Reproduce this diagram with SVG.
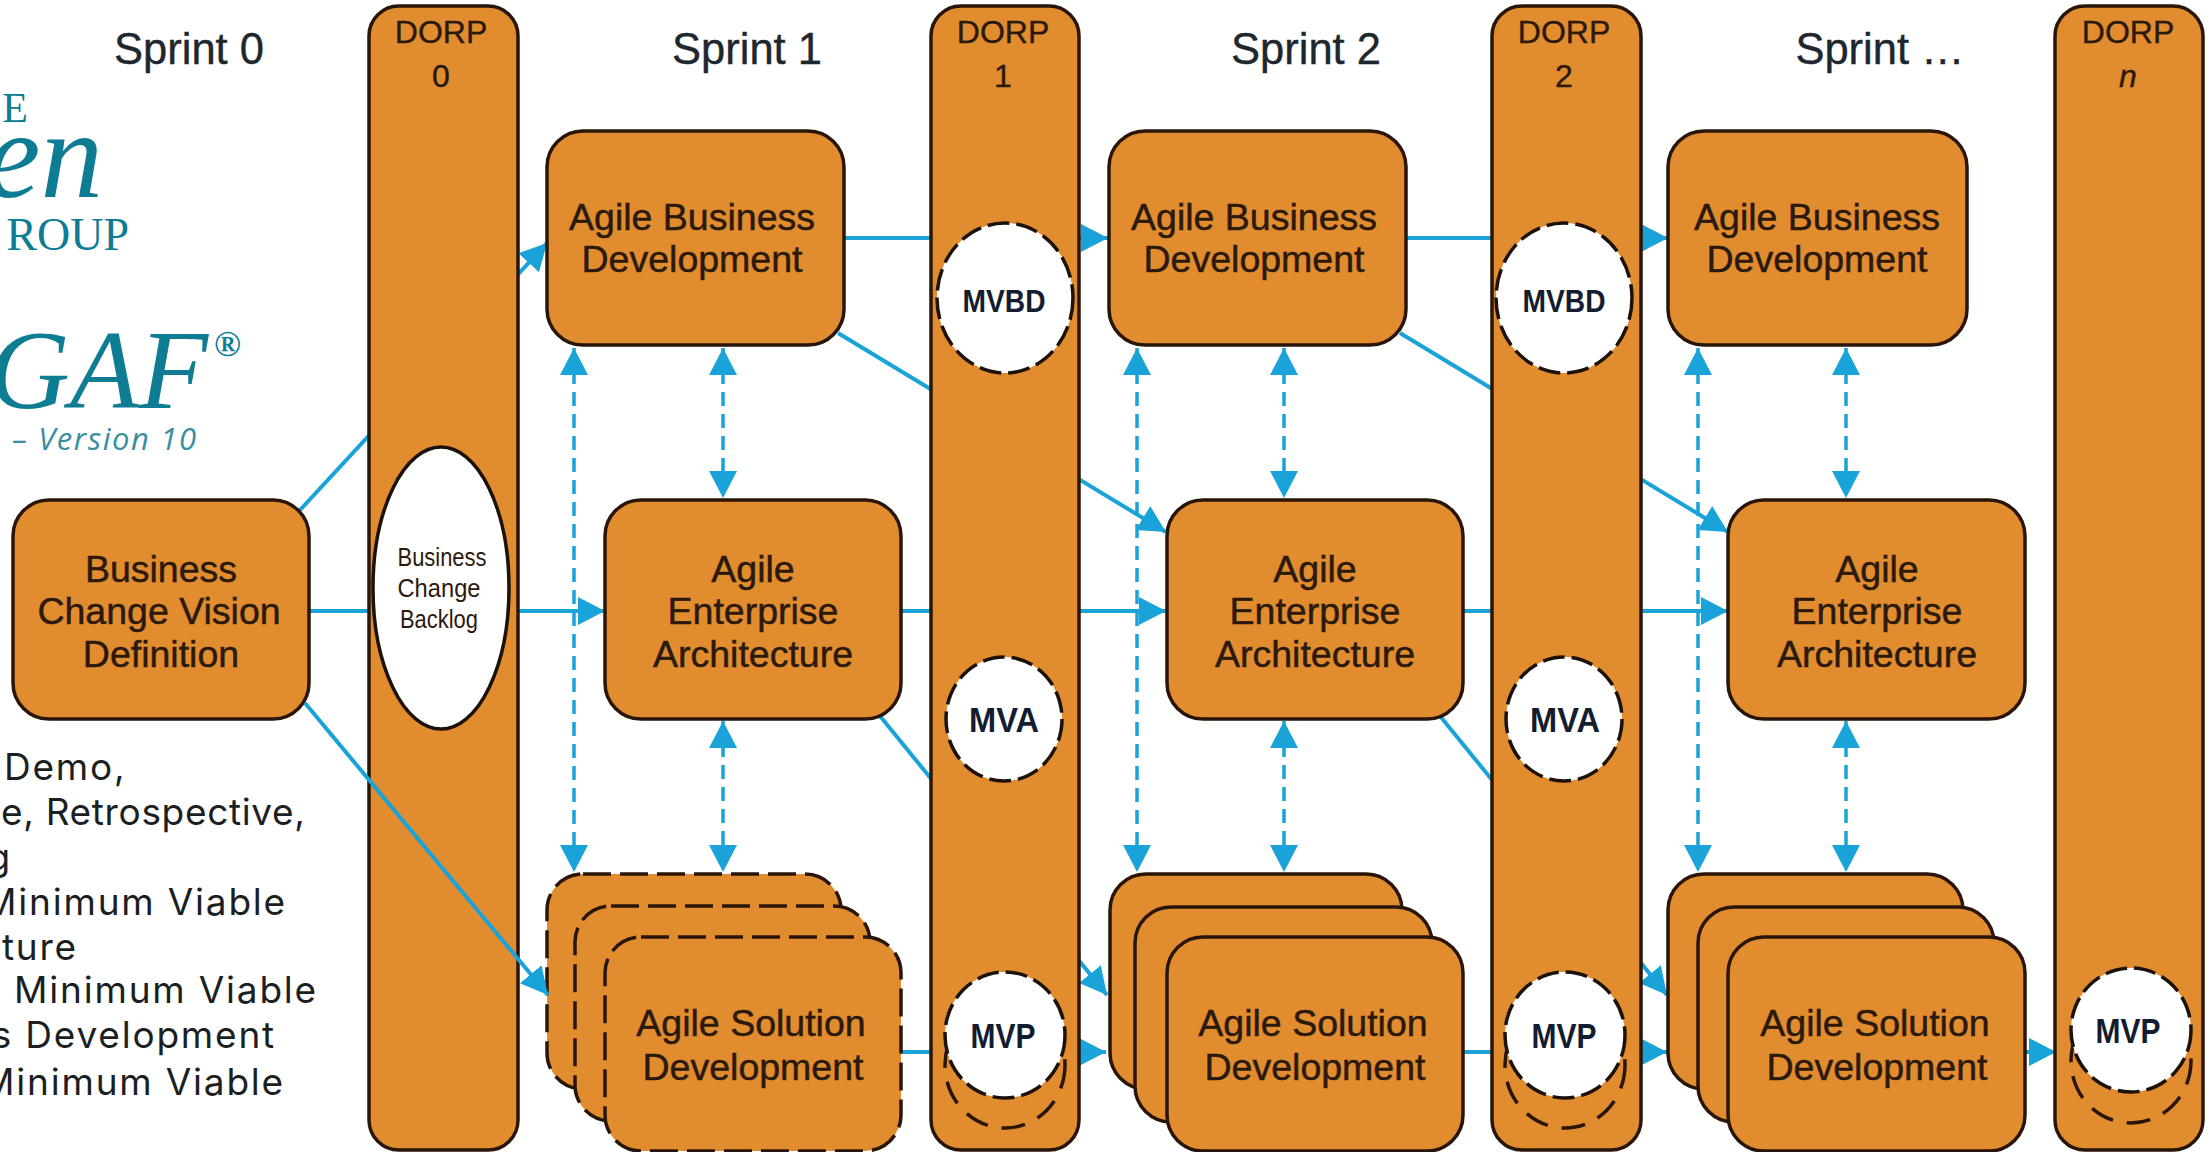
<svg xmlns="http://www.w3.org/2000/svg" width="2210" height="1152" viewBox="0 0 2210 1152">
<style>
.box{fill:#e28c30;stroke:#2a1608;stroke-width:3.5}
.dash{stroke-dasharray:28 9}
.el{fill:#fff;stroke:#1c120a;stroke-width:3.5;stroke-dasharray:22 7}
.under{fill:none;stroke:#2a1608;stroke-width:3.5;stroke-dasharray:24 14}
.t{font-family:"Liberation Sans",Arial,sans-serif;text-anchor:middle;fill:#2b1a0c}
.b{font-size:37.5px;stroke:#2b1a0c;stroke-width:.5}
.d{font-size:32px;stroke:#2b1a0c;stroke-width:.4}
.h{font-size:43.5px;fill:#1e262e;stroke:#1e262e;stroke-width:.4}
.m{font-weight:bold;fill:#141c30}
.c{stroke:#1aa3d9;stroke-width:4;fill:none}
.o{stroke-dasharray:14 8;stroke-width:3.5}
.lg{font-family:"Liberation Serif",serif;fill:#0e7c93}
.n{font-family:Inter,"Open Sans",sans-serif;font-size:37px;letter-spacing:1.8px;fill:#1c1f22}
</style>
<defs>
<marker id="ah" markerUnits="userSpaceOnUse" markerWidth="30" markerHeight="30" refX="27" refY="14" orient="auto-start-reverse"><path d="M0 0L27 14L0 28Z" fill="#1aa3d9"/></marker>
</defs>
<rect width="2210" height="1152" fill="#fff"/>
<g id="logo">
<text class="lg" x="28" y="122" font-size="42" text-anchor="end">E</text>
<text class="lg" x="103" y="197" font-size="125" font-style="italic" text-anchor="end">en</text>
<text class="lg" x="129" y="250" font-size="46" text-anchor="end">ROUP</text>
<text class="lg" x="208" y="408" font-size="113" font-style="italic" text-anchor="end">GAF</text>
<text class="lg" x="214" y="356" font-size="36" font-family="Liberation Sans,sans-serif" font-weight="bold">®</text>
<text x="12" y="450" font-size="31" font-style="italic" font-family="Open Sans,sans-serif" fill="#3a8f9f" textLength="184">– Version 10</text>
</g>
<g id="notes">
<text class="n" x="4" y="780">Demo,</text>
<text class="n" x="1" y="825" textLength="304" style="letter-spacing:0">e, Retrospective,</text>
<text class="n" x="12" y="870" text-anchor="end">g</text>
<text class="n" x="287" y="915" text-anchor="end">Minimum Viable</text>
<text class="n" x="78" y="960" text-anchor="end">ture</text>
<text class="n" x="318" y="1003" text-anchor="end">Minimum Viable</text>
<text class="n" x="276" y="1048" text-anchor="end">s Development</text>
<text class="n" x="285" y="1095" text-anchor="end">Minimum Viable</text>
</g>
<g id="sprints">
<text class="t h" x="189" y="64">Sprint 0</text>
<text class="t h" x="747" y="64">Sprint 1</text>
<text class="t h" x="1306" y="64">Sprint 2</text>
<text class="t h" x="1880" y="64">Sprint …</text>
</g>
<g id="connectors">
<path class="c" marker-end="url(#ah)" d="M300 510L547 243"/>
<path class="c" marker-end="url(#ah)" d="M309 611H605"/>
<path class="c" marker-end="url(#ah)" d="M844 238H1108"/>
<path class="c" marker-end="url(#ah)" d="M1405 238H1668"/>
<path class="c" marker-end="url(#ah)" d="M838 333L1166 532"/>
<path class="c" marker-end="url(#ah)" d="M1400 333L1728 532"/>
<path class="c" marker-end="url(#ah)" d="M901 611H1166"/>
<path class="c" marker-end="url(#ah)" d="M1463 611H1728"/>
<path class="c" marker-end="url(#ah)" d="M880 716L1107 995"/>
<path class="c" marker-end="url(#ah)" d="M1440 716L1667 995"/>
<path class="c" marker-end="url(#ah)" d="M901 1052H1106"/>
<path class="c" marker-end="url(#ah)" d="M1463 1052H1667"/>
<path class="c" marker-end="url(#ah)" d="M2025 1052H2056"/>
<path class="c o" marker-start="url(#ah)" marker-end="url(#ah)" d="M574 348V872"/>
<path class="c o" marker-start="url(#ah)" marker-end="url(#ah)" d="M723 348V498"/>
<path class="c o" marker-start="url(#ah)" marker-end="url(#ah)" d="M723 721V872"/>
<path class="c o" marker-start="url(#ah)" marker-end="url(#ah)" d="M1137 348V872"/>
<path class="c o" marker-start="url(#ah)" marker-end="url(#ah)" d="M1284 348V498"/>
<path class="c o" marker-start="url(#ah)" marker-end="url(#ah)" d="M1284 721V872"/>
<path class="c o" marker-start="url(#ah)" marker-end="url(#ah)" d="M1698 348V872"/>
<path class="c o" marker-start="url(#ah)" marker-end="url(#ah)" d="M1846 348V498"/>
<path class="c o" marker-start="url(#ah)" marker-end="url(#ah)" d="M1846 721V872"/>
</g>
<g id="dorp-0">
<rect class="box" x="369" y="6" width="149" height="1144" rx="30"/>
<text class="t d" x="441" y="43">DORP</text><text class="t d" x="441" y="87">0</text>
<ellipse cx="441" cy="588" rx="68" ry="141" fill="#fff" stroke="#1c120a" stroke-width="3.5"/>
<g class="t" font-size="26"><text x="442" y="566" textLength="89" lengthAdjust="spacingAndGlyphs">Business</text><text x="439" y="597" textLength="83" lengthAdjust="spacingAndGlyphs">Change</text><text x="439" y="628" textLength="78" lengthAdjust="spacingAndGlyphs">Backlog</text></g>
</g>
<g id="dorp-1">
<rect class="box" x="931" y="6" width="148" height="1144" rx="30"/>
<text class="t d" x="1003" y="43">DORP</text><text class="t d" x="1003" y="87">1</text>
<ellipse class="el" cx="1005" cy="298" rx="68" ry="75"/><text class="t m" font-size="32" x="1004" y="312" textLength="83" lengthAdjust="spacingAndGlyphs">MVBD</text>
<ellipse class="el" cx="1004" cy="719" rx="58" ry="62"/><text class="t m" font-size="35" x="1004" y="732" textLength="70" lengthAdjust="spacingAndGlyphs">MVA</text>
<ellipse class="under" cx="1005" cy="1065" rx="60" ry="63"/>
<ellipse class="el" cx="1005" cy="1035" rx="60" ry="63"/><text class="t m" font-size="35" x="1003" y="1048" textLength="65" lengthAdjust="spacingAndGlyphs">MVP</text>
</g>
<g id="dorp-2">
<rect class="box" x="1492" y="6" width="149" height="1144" rx="30"/>
<text class="t d" x="1564" y="43">DORP</text><text class="t d" x="1564" y="87">2</text>
<ellipse class="el" cx="1564" cy="298" rx="68" ry="75"/><text class="t m" font-size="32" x="1564" y="312" textLength="83" lengthAdjust="spacingAndGlyphs">MVBD</text>
<ellipse class="el" cx="1564" cy="719" rx="58" ry="62"/><text class="t m" font-size="35" x="1565" y="732" textLength="70" lengthAdjust="spacingAndGlyphs">MVA</text>
<ellipse class="under" cx="1565" cy="1065" rx="60" ry="63"/>
<ellipse class="el" cx="1565" cy="1035" rx="60" ry="63"/><text class="t m" font-size="35" x="1564" y="1048" textLength="65" lengthAdjust="spacingAndGlyphs">MVP</text>
</g>
<g id="dorp-n">
<rect class="box" x="2055" y="6" width="148" height="1144" rx="30"/>
<text class="t d" x="2128" y="43">DORP</text><text class="t d" x="2128" y="87" font-style="italic">n</text>
<ellipse class="under" cx="2131" cy="1061" rx="60" ry="62"/>
<ellipse class="el" cx="2131" cy="1030" rx="60" ry="62"/><text class="t m" font-size="35" x="2128" y="1043" textLength="65" lengthAdjust="spacingAndGlyphs">MVP</text>
</g>
<g id="vision">
<rect class="box" x="13" y="500" width="296" height="219" rx="36"/>
<text class="t b" x="161" y="582">Business</text><text class="t b" x="159" y="624">Change Vision</text><text class="t b" x="161" y="667">Definition</text>
</g>
<g id="business-1">
<rect class="box" x="547" y="131" width="297" height="214" rx="36"/>
<text class="t b" x="692" y="230">Agile Business</text><text class="t b" x="692" y="272">Development</text>
</g>
<g id="business-2">
<rect class="box" x="1109" y="131" width="297" height="214" rx="36"/>
<text class="t b" x="1254" y="230">Agile Business</text><text class="t b" x="1254" y="272">Development</text>
</g>
<g id="business-3">
<rect class="box" x="1668" y="131" width="299" height="214" rx="36"/>
<text class="t b" x="1817" y="230">Agile Business</text><text class="t b" x="1817" y="272">Development</text>
</g>
<g id="architecture-1">
<rect class="box" x="605" y="500" width="296" height="219" rx="36"/>
<text class="t b" x="753" y="582">Agile</text><text class="t b" x="753" y="624">Enterprise</text><text class="t b" x="753" y="667">Architecture</text>
</g>
<g id="architecture-2">
<rect class="box" x="1167" y="500" width="296" height="219" rx="36"/>
<text class="t b" x="1315" y="582">Agile</text><text class="t b" x="1315" y="624">Enterprise</text><text class="t b" x="1315" y="667">Architecture</text>
</g>
<g id="architecture-3">
<rect class="box" x="1728" y="500" width="297" height="219" rx="36"/>
<text class="t b" x="1877" y="582">Agile</text><text class="t b" x="1877" y="624">Enterprise</text><text class="t b" x="1877" y="667">Architecture</text>
</g>
<g id="solution-1">
<rect class="box dash" x="547" y="874" width="294" height="215" rx="36"/>
<rect class="box dash" x="575" y="906" width="295" height="215" rx="36"/>
<rect class="box dash" x="605" y="937" width="296" height="214" rx="36"/>
<text class="t b" x="751" y="1036">Agile Solution</text><text class="t b" x="753" y="1080">Development</text>
</g>
<g id="solution-2">
<rect class="box" x="1110" y="874" width="292" height="215" rx="36"/>
<rect class="box" x="1135" y="907" width="297" height="215" rx="36"/>
<rect class="box" x="1167" y="937" width="296" height="214" rx="36"/>
<text class="t b" x="1313" y="1036">Agile Solution</text><text class="t b" x="1315" y="1080">Development</text>
</g>
<g id="solution-3">
<rect class="box" x="1668" y="874" width="295" height="215" rx="36"/>
<rect class="box" x="1698" y="907" width="296" height="215" rx="36"/>
<rect class="box" x="1728" y="937" width="297" height="214" rx="36"/>
<text class="t b" x="1875" y="1036">Agile Solution</text><text class="t b" x="1877" y="1080">Development</text>
</g>
<g id="connectors-over">
<path class="c" marker-end="url(#ah)" d="M305 703L548 995"/>
</g>
</svg>
